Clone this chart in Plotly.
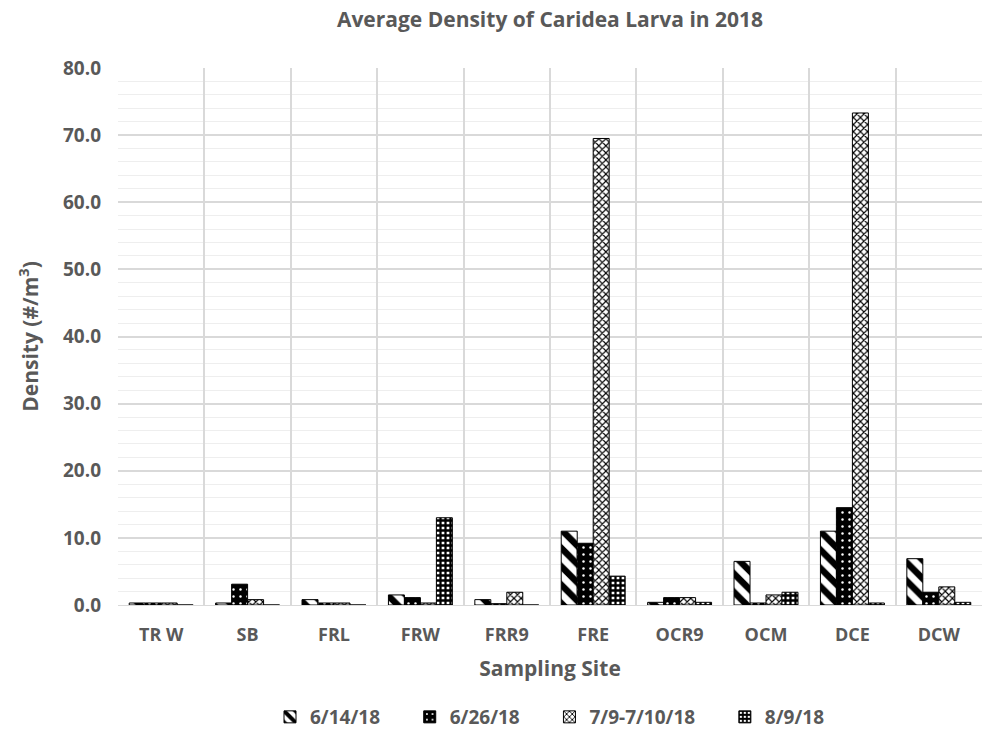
import plotly.graph_objects as go

sites = ["TR W", "SB", "FRL", "FRW", "FRR9", "FRE", "OCR9", "OCM", "DCE", "DCW"]
series_names = ["6/14/18", "6/26/18", "7/9-7/10/18", "8/9/18"]

d_0614 = [0.3, 0.3, 0.8, 1.5, 0.8, 11.0, 0.4, 6.5, 11.0, 6.9]
d_0626 = [0.3, 3.1, 0.3, 1.1, 0.2, 9.2, 1.1, 0.3, 14.5, 1.9]
d_0709 = [0.3, 0.8, 0.3, 0.3, 1.9, 69.5, 1.1, 1.5, 73.3, 2.7]
d_0809 = [0.0, 0.0, 0.0, 13.0, 0.0, 4.3, 0.4, 1.9, 0.3, 0.4]

series_values = [d_0614, d_0626, d_0709, d_0809]

# black-and-white hatch fills, one per sampling date
patterns = [
    dict(shape="\\", fgcolor="black", bgcolor="white", fgopacity=1,
         size=13, solidity=0.5),
    dict(shape=".", fgcolor="white", bgcolor="black", fgopacity=1,
         size=7, solidity=0.1),
    dict(shape="x", fgcolor="black", bgcolor="white", fgopacity=1,
         size=5, solidity=0.4),
    dict(shape="+", fgcolor="black", bgcolor="white", fgopacity=1,
         size=5, solidity=0.7),
]

grey = "#595959"
font_family = "Open Sans, Liberation Sans, sans-serif"
pad = "\u00a0" * 5

fig = go.Figure()
for i, (name, vals, pat) in enumerate(zip(series_names, series_values, patterns)):
    label = "<b>" + name + "</b>" + (pad if i < len(series_names) - 1 else "")
    fig.add_trace(go.Bar(
        x=sites, y=vals, name=label,
        marker=dict(color="white", pattern=pat,
                    line=dict(color="black", width=1)),
    ))

fig.update_layout(
    width=984, height=732,
    paper_bgcolor="white", plot_bgcolor="white",
    margin=dict(l=118, r=2, t=68, b=127),
    barmode="group", bargap=0.26, bargroupgap=0,
    font=dict(family=font_family, color=grey),
    title=dict(text="<b>Average Density of Caridea Larva in 2018</b>",
               x=0.5, xref="paper", xanchor="center",
               y=1 - 20 / 732, yanchor="middle",
               font=dict(size=21, color=grey, family=font_family)),
    legend=dict(orientation="h", x=0.5, xanchor="center", xref="paper",
                y=15 / 732, yref="container", yanchor="middle",
                font=dict(size=19, color=grey, family=font_family),
                itemwidth=30, traceorder="normal"),
    showlegend=True,
)

fig.update_xaxes(
    type="category", range=[-0.5, 9.5],
    tickson="boundaries", showgrid=True, gridcolor="#d9d9d9", gridwidth=1.5,
    ticks="", showline=True, linecolor="#d9d9d9", linewidth=1,
    tickfont=dict(size=18, color=grey, family=font_family),
    tickprefix="<b>", ticksuffix="</b>",
    title=dict(text="<b>Sampling Site</b>", standoff=16,
               font=dict(size=21, color=grey, family=font_family)),
    ticklabelstandoff=13,
)
fig.update_yaxes(
    range=[0, 80], dtick=10, tickformat=".1f",
    showgrid=True, gridcolor="#d9d9d9", gridwidth=1.5,
    minor=dict(dtick=2, showgrid=True, gridcolor="#eeeeee", gridwidth=1),
    zeroline=False, showline=False, ticks="",
    tickfont=dict(size=19, color=grey, family=font_family),
    tickprefix="<b>", ticksuffix="</b>",
    title=dict(text="<b>Density (#/m<sup>3</sup>)</b>", standoff=18,
               font=dict(size=21, color=grey, family=font_family)),
    ticklabelstandoff=16,
)

fig.write_html("out.html")
